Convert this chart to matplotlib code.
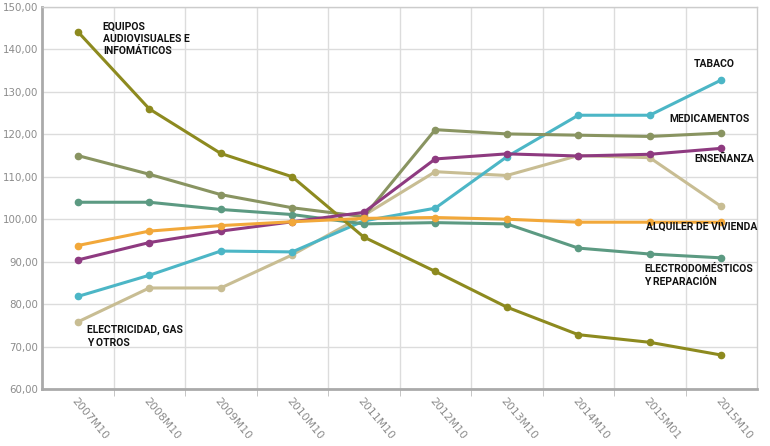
import matplotlib
matplotlib.use("Agg")
import matplotlib.pyplot as plt
from matplotlib import font_manager

periods = ["2007M10", "2008M10", "2009M10", "2010M10", "2011M10",
           "2012M10", "2013M10", "2014M10", "2015M01", "2015M10"]

equipos = [144.2, 126.0, 115.5, 110.0, 95.8, 87.7, 79.3, 72.8, 71.0, 68.0]
medicamentos = [115.0, 110.6, 105.8, 102.7, 100.6, 121.1, 120.1, 119.8, 119.5, 120.3]
electrodom = [104.0, 104.0, 102.3, 101.1, 98.9, 99.2, 98.9, 93.2, 91.8, 90.9]
alquiler = [93.8, 97.2, 98.5, 99.4, 100.2, 100.4, 100.0, 99.3, 99.3, 99.3]
ensenanza = [90.4, 94.5, 97.2, 99.4, 101.6, 114.2, 115.4, 114.9, 115.3, 116.7]
tabaco = [81.8, 86.8, 92.5, 92.3, 99.6, 102.6, 114.7, 124.5, 124.5, 132.8]
electricidad = [75.8, 83.8, 83.8, 91.6, 100.9, 111.2, 110.3, 115.0, 114.5, 103.0]

series = [
    (electricidad, "#c8bd93"),
    (tabaco, "#4cb6c6"),
    (medicamentos, "#899461"),
    (electrodom, "#5c9a82"),
    (equipos, "#8d8a1f"),
    (ensenanza, "#8e3a80"),
    (alquiler, "#f2a83a"),
]

# (text, x, y, ha, va) in axes fraction
labels = [
    ("EQUIPOS\nAUDIOVISUALES E\nINFOMÁTICOS", 0.085, 0.962, "left", "top"),
    ("TABACO", 0.969, 0.851, "right", "center"),
    ("MEDICAMENTOS", 0.990, 0.707, "right", "center"),
    ("ENSEÑANZA", 0.996, 0.602, "right", "center"),
    ("ALQUILER DE VIVIENDA", 1.0, 0.424, "right", "center"),
    ("ELECTRODOMÉSTICOS\nY REPARACIÓN", 0.994, 0.326, "right", "top"),
    ("ELECTRICIDAD, GAS\nY OTROS", 0.063, 0.168, "left", "top"),
]

lab_prop = font_manager.FontProperties(family=["Roboto", "DejaVu Sans"], weight="bold", size=7.5)

fig = plt.figure(figsize=(7.7, 4.46), dpi=100)
ax = fig.add_axes([42/770, 1-389/446, 715/770, 382/446])

x = list(range(len(periods)))
for vals, col in series:
    ax.plot(x, vals, color=col, lw=2.2, marker="o", ms=4.5, zorder=3)

ax.set_xlim(-0.5, len(periods) - 0.5)
ax.set_ylim(60, 150)
ax.set_yticks(range(60, 151, 10))
ax.set_yticklabels([f"{v},00" for v in range(60, 151, 10)])
ax.set_xticks(x)
ax.set_xticklabels(periods, rotation=-50, ha="left", va="top", rotation_mode="anchor")
ax.set_xticks([i + 0.5 for i in x[:-1]], minor=True)

ax.grid(True, axis="y", color="#dcdcdc", lw=1)
ax.grid(True, axis="x", which="minor", color="#dcdcdc", lw=1)
ax.set_axisbelow(True)

ax.tick_params(axis="both", which="major", colors="#8c8c8c", labelsize=7.4, length=0)
ax.tick_params(axis="x", which="major", pad=5, labelsize=7.8)
ax.tick_params(axis="y", pad=3)
ax.tick_params(axis="x", which="minor", length=5, color="#bbbbbb")

for side in ["top", "right"]:
    ax.spines[side].set_color("#cccccc")
    ax.spines[side].set_linewidth(1)
for side in ["left", "bottom"]:
    ax.spines[side].set_color("#aaaaaa")
    ax.spines[side].set_linewidth(2)

for text, fx, fy, ha, va in labels:
    ax.text(fx, fy, text, transform=ax.transAxes, ha=ha, va=va,
            multialignment="left", fontproperties=lab_prop, color="#111111",
            linespacing=1.3, zorder=5)

fig.savefig("out.png", dpi=100)
